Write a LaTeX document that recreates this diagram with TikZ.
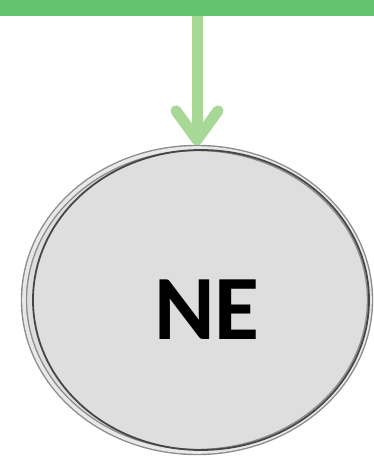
\documentclass[tikz,border=0pt]{standalone}
\usepackage{fontspec}
\usetikzlibrary{positioning}
\usetikzlibrary{shapes.geometric,arrows.meta}
\newfontfamily\labelfont{Carlito}
\definecolor{barc}{RGB}{100,195,110}
\definecolor{arrc}{RGB}{168,216,150}
\definecolor{nodec}{RGB}{222,222,222}
\definecolor{ringc}{RGB}{140,140,140}
\definecolor{ringin}{RGB}{232,232,232}
\definecolor{ringdark}{RGB}{70,70,70}

\begin{document}
\begin{tikzpicture}[x=1pt, y=1pt, line width=1pt]
		\tikzstyle{bar}=[rectangle, fill=barc, draw=none, minimum width=374pt, minimum height=16pt, inner sep=0pt]
		\tikzstyle{state}=[ellipse, fill=nodec, draw=ringc, line width=1.4pt, double=ringin, double distance=3.6pt, minimum width=346pt, minimum height=304pt, inner sep=0pt, text height=80pt, text depth=0pt, font=\labelfont\bfseries\fontsize{92}{92}\selectfont]
		\tikzstyle{flow}=[draw=arrc, line width=11pt, -{Straight Barb[length=29pt, width=42pt, line cap=round, line join=round]}, shorten >=2pt]
		\tikzstyle{innerring}=[draw=ringdark, line width=1.8pt]

		\useasboundingbox (0,0) rectangle (374,461);

		\node[bar](top) at (187,453) {};
		\node[state](ne) at (197,161) {\hspace{20pt}NE};

		% inner rim
		\draw[innerring] ([xshift=4pt]ne.center) ellipse [x radius=168, y radius=150];

		% Connection
		\path (ne.north |- top.south) edge [flow] (ne.north);

\end{tikzpicture}
\end{document}
